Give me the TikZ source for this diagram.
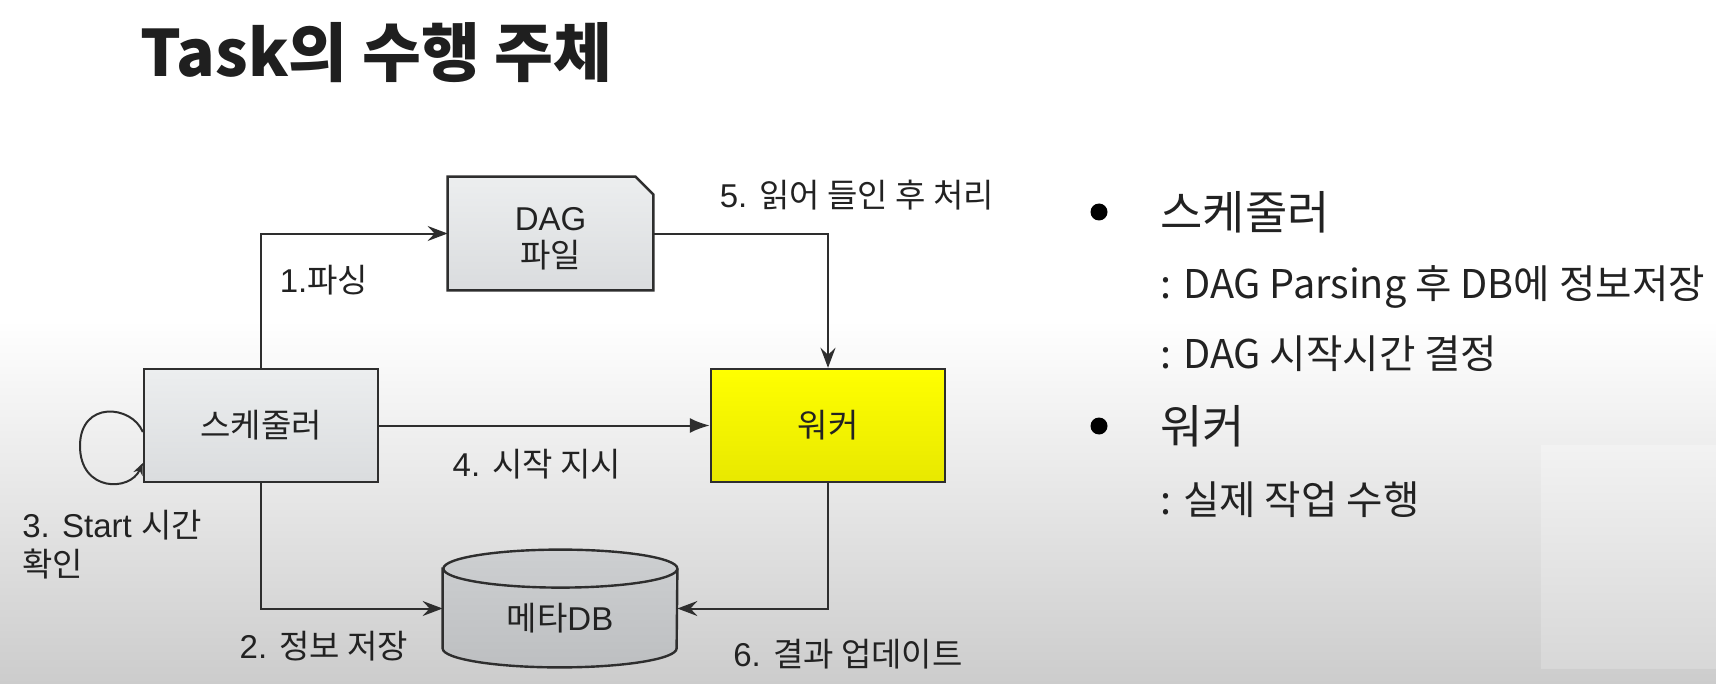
\documentclass[tikz,border=0pt]{standalone}
\usepackage{fontspec}
\setmainfont{Liberation Sans}
\newfontfamily\kr{Noto Sans CJK KR}
\newcommand\kor[1]{{\kr #1}}
\usetikzlibrary{arrows.meta,calc}
\definecolor{ink}{HTML}{222222}
\definecolor{lineC}{HTML}{2E2E2E}
\definecolor{boxTop}{HTML}{ECEEEF}
\definecolor{boxBot}{HTML}{DADCDE}
\definecolor{dbTop}{HTML}{CDCFD1}
\definecolor{dbBot}{HTML}{BDBFC1}
\definecolor{ylTop}{HTML}{FFFF00}
\definecolor{ylBot}{HTML}{E8E800}
\begin{document}
\begin{tikzpicture}[x=0.5pt,y=-0.5pt,
  lbl/.style={text=ink, font=\fontsize{16.5}{19}\selectfont, inner sep=0pt},
  box/.style={draw=lineC, line width=1.2pt, minimum width=117pt, minimum height=56.5pt, inner sep=0pt, top color=boxTop, bottom color=boxBot, lbl},
  conn/.style={draw=lineC, line width=1pt},
  stl/.style={conn, -{Stealth[length=10pt,width=7.5pt,inset=3.5pt]}},
  tri/.style={conn, -{Latex[length=10pt,width=7.5pt]}},
  side/.style={anchor=west, text=ink, inner sep=0pt, font=\kr\fontsize{19.8}{23}\selectfont},
  head/.style={anchor=west, text=ink, inner sep=0pt, font=\kr\fontsize{23}{27}\selectfont},
  dot/.style={circle, fill=black, inner sep=0pt, minimum size=8.5pt},
]
\useasboundingbox (0,0) rectangle (1716,684);
\fill[white] (0,0) rectangle (1716,684);
\shade[top color=white, bottom color=black!20] (0,320) rectangle (1716,684);
\shade[top color=black!5, bottom color=black!15.5] (1541,445) rectangle (1716,668);

% title
\node[anchor=base west, inner sep=0pt, text=black!88, font=\kr\bfseries\fontsize{32}{37}\selectfont] (title) at (140,77) {Task의 수행 주체};

% boxes
\node[box] (sched) at (261,425.5) {\kor{스케줄러}};
\node[box, top color=ylTop, bottom color=ylBot] (worker) at (828,425.5) {\kor{워커}};

\node[minimum width=102.5pt, minimum height=56.5pt, inner sep=0pt] (dag) at (550.5,233.5) {};
\draw[line width=1.2pt, draw=lineC, top color=boxTop, bottom color=boxBot] (dag.south west) -- (dag.north west) -- ([xshift=-9pt]dag.north east) -- ([yshift=-9pt]dag.north east) -- (dag.south east) -- cycle;
\node[lbl, align=center, font=\fontsize{16.5}{18.5}\selectfont] (dagtxt) at ([yshift=-2.5pt]dag.center) {DAG\\\kor{파일}};

\node[minimum width=117pt, minimum height=58.5pt, inner sep=0pt] (db) at (560,608.5) {};
\path[draw=lineC, line width=1.2pt, top color=dbTop, bottom color=dbBot] ([yshift=-9.5pt]db.north west) -- ([yshift=9.5pt]db.south west) arc[start angle=180, end angle=360, x radius=58.5pt, y radius=9.5pt] -- ([yshift=-9.5pt]db.north east) arc[start angle=0, end angle=180, x radius=58.5pt, y radius=9.5pt] -- cycle;
\draw[lineC, line width=1.2pt] ([yshift=-9.5pt]db.north east) arc[start angle=0, end angle=-180, x radius=58.5pt, y radius=9.5pt];
\node[lbl] (dbtxt) at ([yshift=-5pt]db.center) {\kor{메타}DB};

% connectors
\draw[stl] (sched.north) |- (dag.west);
\draw[stl] (dag.east) -| (worker.north);
\draw[tri] (sched.east) -- (worker.west);
\draw[stl] (sched.south) |- (db.west);
\draw[stl] (worker.south) |- (db.east);
\draw[conn, -{Stealth[length=6pt,width=5pt,inset=2pt]}] ([yshift=-3.25pt]sched.west) .. controls (132,405) and (80,400) .. (80,446) .. controls (80,492) and (130,492) .. ([yshift=-18.75pt]sched.west);

% labels
\node[lbl] (l1) at (324,280) {1.\kor{파싱}};
\node[lbl] (l5) at (857,195) {5. \kor{읽어 들인 후 처리}};
\node[lbl] (l4) at (537,464) {4. \kor{시작 지시}};
\node[lbl] (l2) at (324,646) {2. \kor{정보 저장}};
\node[lbl] (l6) at (848,654) {6. \kor{결과 업데이트}};
\node[lbl, anchor=west, align=left, font=\fontsize{16.5}{19.5}\selectfont] (l3) at (22,544.5) {3. Start \kor{시간}\\\kor{확인}};

% right column
\node[dot] (b1) at (1099,212) {};
\node[head] (h1) at (1160,212) {스케줄러};
\node[side] (s1) at (1160,287) {: DAG Parsing 후 DB에 정보저장};
\node[side] (s2) at (1160,354) {: DAG 시작시간 결정};
\node[dot] (b2) at (1099,426) {};
\node[head] (h2) at (1160,426) {워커};
\node[side] (s3) at (1160,500) {: 실제 작업 수행};
\end{tikzpicture}
\end{document}
